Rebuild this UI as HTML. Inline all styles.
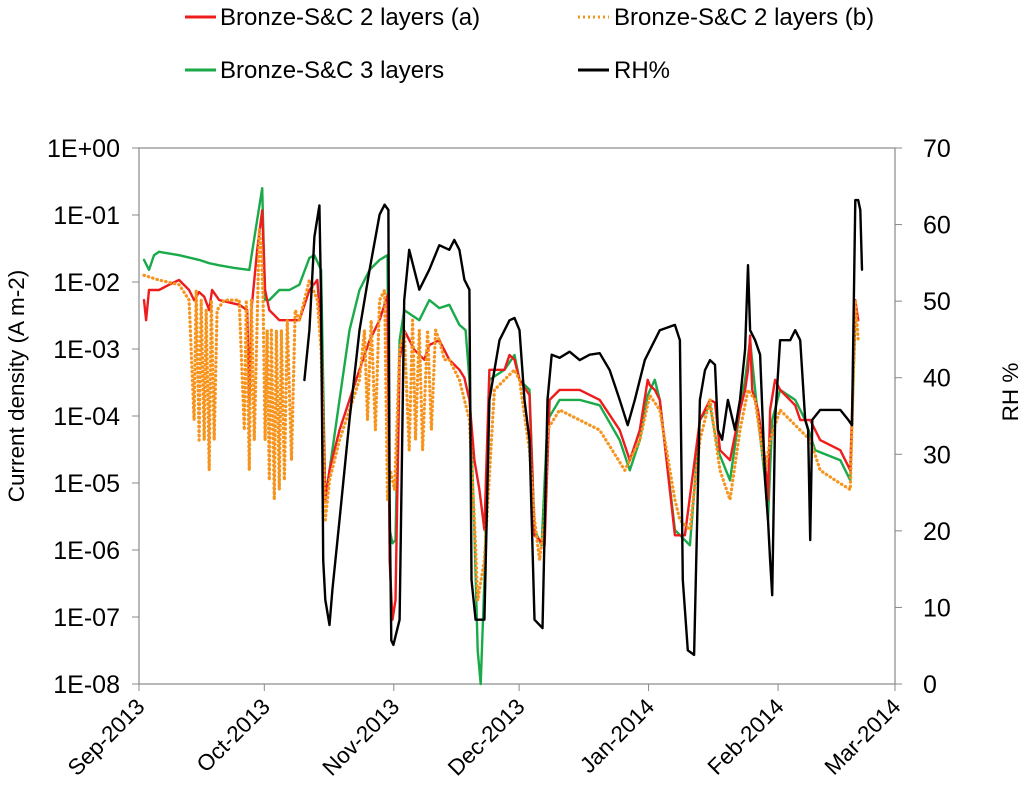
<!DOCTYPE html>
<html><head><meta charset="utf-8"><style>
body{margin:0;background:#fff;}
svg text{font-family:"Liberation Sans",Arial,sans-serif;fill:#000;}
</style></head><body>
<svg id="chart" width="1024" height="796" xmlns="http://www.w3.org/2000/svg">
<g id="legend">
  <g><line x1="185" y1="17" x2="216" y2="17" stroke="#ee1c1c" stroke-width="3"/><text x="220" y="25" font-size="24">Bronze-S&amp;C 2 layers (a)</text></g>
  <g><line x1="578" y1="17" x2="609" y2="17" stroke="#f7941d" stroke-width="3" stroke-dasharray="2,3"/><text x="614" y="25" font-size="24">Bronze-S&amp;C 2 layers (b)</text></g>
  <g><line x1="185" y1="70" x2="216" y2="70" stroke="#1aaa4a" stroke-width="3"/><text x="220" y="78" font-size="24">Bronze-S&amp;C 3 layers</text></g>
  <g><line x1="578" y1="70" x2="609" y2="70" stroke="#000" stroke-width="3"/><text x="614" y="78" font-size="24">RH%</text></g>
</g>
<g id="axes"></g>
<g id="series"></g>
<text transform="translate(24,386) rotate(-90)" text-anchor="middle" font-size="22.5">Current density (A m-2)</text>
<text transform="translate(1018,392) rotate(-90)" text-anchor="middle" font-size="22.5">RH %</text>
</svg>
<script>
const xTickLabels=["Sep-2013","Oct-2013","Nov-2013","Dec-2013","Jan-2014","Feb-2014","Mar-2014"];
const xTickDays=[0,30,61,91,122,153,181];
const yTickLabels=["1E-08","1E-07","1E-06","1E-05","1E-04","1E-03","1E-02","1E-01","1E+00"];
const y2Ticks=[0,10,20,30,40,50,60,70];
// current density series stored as log10 exponents
const redDays=[1.2,1.7,2.4,4.8,7.2,9.6,12,13.2,14.4,15.6,16.8,17.5,19.2,24,25.9,26.4,26.9,28.3,29.5,30.2,31.2,33.6,36,38.4,40.8,42.7,43.6,44.6,45.6,48,50.4,52.8,55.2,57.6,59.5,60,60.7,61.4,62.4,63.5,65.9,68.3,69.5,71.9,74.3,76.7,77.9,79.1,80.3,81.5,82.7,83.9,87.5,88.7,89.9,91.1,93.5,94.7,95.9,97.1,98.3,100.7,105.5,110.3,115.1,117.5,119.9,121.8,122.3,123.5,124.7,128.3,130.7,134.3,136.7,137.9,139.1,141.5,143.9,145.1,145.8,146.3,146.8,148.2,149.9,150.6,151.1,152.3,153.5,157.1,158.3,160.7,163.1,167.9,170.3,171.5,172.2];
const redLog=[-2.27,-2.57,-2.12,-2.12,-2.04,-1.97,-2.12,-2.27,-2.15,-2.22,-2.42,-2.12,-2.27,-2.34,-2.42,-3.8,-2.42,-1.52,-0.93,-2.12,-2.42,-2.57,-2.57,-2.57,-2.12,-1.97,-2.72,-5.25,-4.81,-4.21,-3.76,-3.31,-2.87,-2.57,-2.2,-6.15,-7.04,-6.75,-3.16,-2.72,-3.01,-3.16,-2.94,-2.87,-3.16,-3.31,-3.43,-3.76,-4.66,-5.1,-5.7,-3.31,-3.31,-3.09,-3.16,-3.46,-3.69,-5.78,-5.85,-5.93,-3.76,-3.61,-3.61,-3.76,-4.21,-4.66,-4.21,-3.46,-3.54,-3.61,-3.76,-5.78,-5.78,-4.06,-3.76,-3.8,-4.51,-4.66,-3.91,-3.61,-3.31,-2.8,-3.61,-3.91,-4.66,-5.25,-3.91,-3.46,-3.61,-3.84,-4.06,-4.06,-4.36,-4.51,-4.81,-2.27,-2.57];
const greenDays=[1.2,2.4,3.6,4.8,9.6,14.4,16.8,19.2,22.8,26.4,28.3,29.5,30.2,31.2,33.6,36,38.4,40.8,42,43.6,44.6,45.6,48,50.4,52.8,55.2,57.6,59.5,60,60.7,61.4,62.4,63.5,67.1,69.5,71.9,74.3,76.7,78.2,79.1,80.3,81.1,81.8,82.7,83.9,87.5,89.9,91.1,93.5,94.7,96.4,97.8,100.7,105.5,110.3,115.1,117.5,119.9,121.8,123.5,124.7,128.3,131.9,134.3,136.7,138.6,141.5,143.9,145.1,146.3,147.5,149.9,150.6,151.6,153.5,157.1,159.5,161.9,167.9,170.3,171.5,172.2];
const greenLog=[-1.67,-1.82,-1.6,-1.55,-1.6,-1.67,-1.72,-1.75,-1.79,-1.82,-1.07,-0.6,-2.27,-2.27,-2.12,-2.12,-2.04,-1.64,-1.6,-1.82,-5.25,-4.81,-3.76,-2.72,-2.12,-1.82,-1.67,-1.6,-5.7,-5.9,-5.85,-2.87,-2.42,-2.57,-2.27,-2.39,-2.34,-2.64,-2.72,-3.46,-5.7,-7.5,-8,-6.45,-3.46,-3.31,-3.09,-3.46,-3.61,-5.7,-5.93,-4.06,-3.76,-3.76,-3.84,-4.36,-4.81,-4.36,-3.69,-3.46,-3.76,-5.7,-5.93,-4.06,-3.84,-4.51,-4.96,-3.91,-3.46,-2.87,-3.61,-4.96,-5.55,-4.06,-3.61,-3.76,-4.06,-4.51,-4.66,-4.96,-2.57,-2.57];
const orangeDays=[1.2,4.8,9.6,12,13.2,13.7,14.4,14.9,15.6,16.1,16.8,17.3,18,18.7,20.4,24,25.2,25.7,26.4,26.9,27.6,28.3,28.8,29.3,29.7,30.2,30.7,31.2,31.7,32.4,32.9,33.6,34.1,34.8,35.5,36.5,37.4,38.4,40.8,42.7,43.6,44.6,45.6,48,50.4,52.8,54,54.7,55.6,56.6,57.6,58.8,59.5,60.2,61.2,62.4,63.5,64.7,65.5,66.2,67.1,67.9,69.1,70,71,71.9,73.1,74.3,76.7,79.1,80.3,81.1,82.7,85.1,87.5,89.9,91.1,93.5,94.7,95.9,97.1,97.8,100.7,110.3,116.3,119.9,122.3,124.7,128.3,129.5,131.9,134.3,136.7,139.1,141.5,143.9,145.8,147.5,149.9,151.1,153.5,158.3,160.7,163.1,166.7,170.3,171.5,172.2];
const orangeLog=[-1.9,-1.97,-2.04,-2.27,-4.06,-2.12,-4.36,-2.27,-4.36,-2.42,-4.81,-2.27,-4.36,-2.42,-2.27,-2.27,-4.21,-2.27,-4.81,-2.27,-4.36,-2.57,-1.22,-1.52,-2.27,-4.36,-2.72,-4.96,-2.72,-5.25,-2.72,-5.1,-2.72,-4.96,-2.57,-4.66,-2.42,-2.57,-1.97,-2.27,-3.01,-5.55,-4.96,-4.36,-3.91,-3.46,-2.72,-4.06,-2.57,-4.21,-2.27,-2.12,-5.25,-4.81,-5.1,-3.01,-2.72,-4.51,-2.57,-4.36,-2.72,-4.51,-2.72,-4.21,-2.72,-2.87,-3.16,-3.16,-3.46,-4.06,-5.55,-6.75,-6.15,-3.61,-3.46,-3.31,-3.46,-4.51,-5.55,-6.15,-5.55,-4.2,-3.91,-4.21,-4.81,-4.36,-3.69,-3.91,-5.25,-5.55,-5.7,-4.36,-3.76,-4.81,-5.25,-4.21,-3.61,-3.76,-4.81,-4.36,-3.91,-4.21,-4.36,-4.81,-4.96,-5.1,-2.27,-2.87];
const rhDays=[39.6,40.8,42,43.2,43.6,44.1,44.6,45.6,46.3,48,50.4,52.8,55.2,57.6,58.8,59.7,60,60.4,60.9,62.4,63.5,64.7,67.1,69.5,71.9,74.3,75.5,76.7,77.9,79.1,79.6,80.6,82.7,83.9,86.3,88.7,89.9,91.1,92.3,93.5,94.7,96.6,97.8,98.8,100.7,103.1,105.5,107.9,110.3,112.7,115.1,117,118.7,121.1,124.7,128.3,129.5,130.2,131.4,132.9,134.3,135.5,136.7,137.9,138.6,139.6,141,142.7,143.9,145.1,145.8,146.3,147.5,148.7,149.9,150.6,151.1,151.6,152.3,153.5,155.9,157.1,158.3,159.5,160.2,160.7,161.2,163.1,167.9,169.8,170.7,171.5,172.2,172.7,173.1];
const rhVals=[39.7,46.2,58.4,62.5,50.1,16.2,11,7.7,12.3,21.4,34.5,46.2,54.1,61.3,62.6,61.9,24,5.7,5.1,8.4,50.1,56.7,51.5,54.1,57.3,56.7,58,56.7,52.8,51.5,13.6,8.4,8.4,37.1,44.9,47.5,47.8,46.2,37.1,31.9,8.4,7.3,37.1,43,42.6,43.4,42.3,43,43.2,41,37.1,33.8,37.1,42.3,46.2,46.9,44.9,13.6,4.4,3.8,37.1,41,42.3,41.7,33.2,31.9,37.1,33.2,37.1,43.7,54.7,46.2,44.9,43,26.6,21.4,16.2,11.6,34.5,44.9,44.9,46.2,44.9,34.5,33.2,18.8,34.5,35.8,35.8,34.5,33.8,63.2,63.2,61.9,54.1];

const L=139,R=895,T=148,B=684;
const xS=d=>L+(R-L)*d/181;
const yS=e=>B-(e+8)*(B-T)/8;
const y2S=v=>B-v*(B-T)/70;
const NS="http://www.w3.org/2000/svg";
const axes=document.getElementById('axes'),ser=document.getElementById('series');
function mk(tag,attrs,parent){const e=document.createElementNS(NS,tag);for(const k in attrs)e.setAttribute(k,attrs[k]);parent.appendChild(e);return e;}
const frame=mk('rect',{x:L,y:T,width:R-L,height:B-T,fill:'none',stroke:'#888','stroke-width':1.2},axes);


yTickLabels.forEach((lab,i)=>{const y=yS(i-8);
  mk('line',{x1:L-7,x2:L,y1:y,y2:y,stroke:'#888'},axes);
  const t=mk('text',{x:L-19,y:y+9,'text-anchor':'end','font-size':25},axes);t.textContent=lab;
  
  });
y2Ticks.forEach(v=>{const y=y2S(v);
  mk('line',{x1:R,x2:R+7,y1:y,y2:y,stroke:'#888'},axes);
  const t=mk('text',{x:R+28,y:y+9,'text-anchor':'start','font-size':25},axes);t.textContent=v;
  
  });
xTickLabels.forEach((lab,i)=>{const x=xS(xTickDays[i]);
  mk('line',{x1:x,x2:x,y1:B,y2:B+7,stroke:'#888'},axes);
  const t=mk('text',{x:0,y:0,'text-anchor':'end','font-size':22.5,transform:`translate(${x+7},${B+24}) rotate(-45)`},axes);t.textContent=lab;
  
  });
function line(days,vals,sc,color,name,dash){
  const d=days.map((dd,i)=>(i?'L':'M')+xS(dd).toFixed(1)+','+sc(vals[i]).toFixed(1)).join('');
  const p=mk('path',{d:d,fill:'none',stroke:color,'stroke-width':dash?3.2:2.4,'stroke-linejoin':'round','stroke-linecap':'round'},ser);
  if(dash)p.setAttribute('stroke-dasharray',dash);
  
  }
line(greenDays,greenLog,yS,'#1aaa4a','series-bronze-3-layers');
line(redDays,redLog,yS,'#ee1c1c','series-bronze-2-layers-a');
line(orangeDays,orangeLog,yS,'#f7941d','series-bronze-2-layers-b','0.5,4');
line(rhDays,rhVals,y2S,'#000','series-rh');
</script>
</body></html>
